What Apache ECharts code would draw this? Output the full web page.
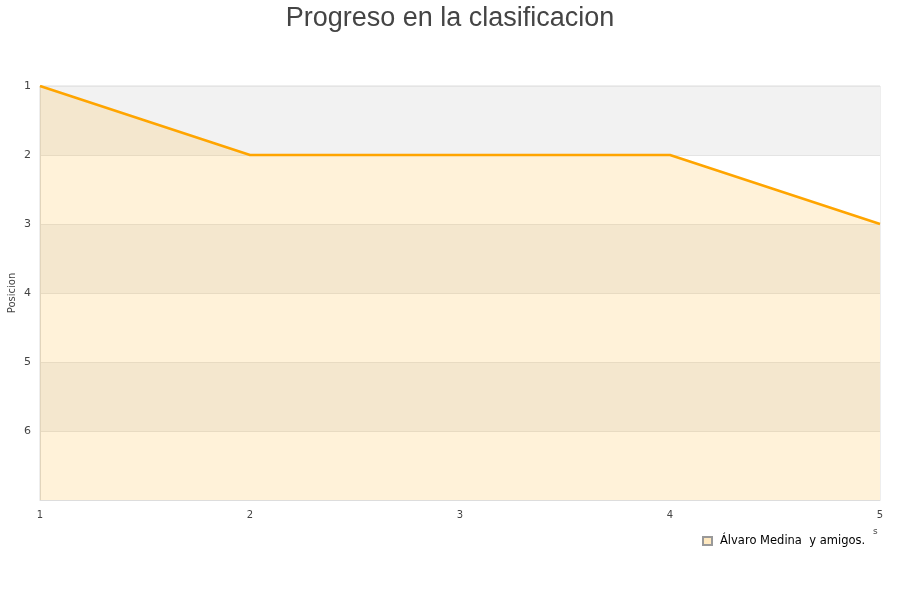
<!DOCTYPE html>
<html><head><meta charset="utf-8">
<script src="https://cdn.jsdelivr.net/npm/echarts@6/dist/echarts.min.js"></script>
<style>html,body{margin:0;padding:0;background:#fff}#c{width:900px;height:600px}</style>
</head><body><div id="c"></div>
<script>
const jornadas = [1, 2, 3, 4, 5];
const posiciones = [1, 2, 2, 2, 3];
const seriesName = 'Álvaro Medina  y amigos.';
const yTicks = [1, 2, 3, 4, 5, 6];

const chart = echarts.init(document.getElementById('c'));
chart.setOption({
  animation: false,
  title: {
    text: 'Progreso en la clasificacion',
    left: 'center', top: 0,
    textStyle: {fontFamily: 'Liberation Sans, Arial', fontSize: 27, fontWeight: 'normal', color: '#444'}
  },
  legend: {
    data: [{name: seriesName, icon: 'rect'}],
    left: 702, top: 535, padding: 0, itemWidth: 9, itemHeight: 8, itemGap: 5,
    textStyle: {fontFamily: 'DejaVu Sans', fontSize: 11.5, color: '#000', padding: [0, 0, 0, 3]}
  },
  grid: {left: 40, right: 20, top: 86, bottom: 100, show: true, borderColor: '#ddd', borderWidth: 1, outerBoundsMode: 'none', containLabel: false},
  xAxis: {
    type: 'value', min: 1, max: 5, interval: 1,
    name: 's', nameLocation: 'end', nameGap: 0,
    nameTextStyle: {fontFamily: 'DejaVu Sans', fontSize: 9, color: '#444', padding: [27, 0, 0, -7], verticalAlign: 'top'},
    axisLine: {show: true, lineStyle: {color: '#ddd'}},
    axisTick: {show: false},
    splitLine: {show: false},
    axisLabel: {fontFamily: 'DejaVu Sans', fontSize: 10, color: '#444', margin: 10}
  },
  yAxis: {
    type: 'value', min: 1, max: 7, interval: 1, inverse: true,
    name: 'Posicion', nameLocation: 'middle', nameGap: 23, nameMoveOverlap: false,
    nameTextStyle: {fontFamily: 'DejaVu Sans', fontSize: 10, color: '#444'},
    axisLine: {show: true, lineStyle: {color: '#ddd'}},
    axisTick: {show: false},
    axisLabel: {fontFamily: 'DejaVu Sans', fontSize: 11, color: '#444', margin: 9,
      formatter: v => yTicks.includes(v) ? String(v) : ''},
    splitLine: {show: true, lineStyle: {color: '#e4e4e4'}},
    splitArea: {show: true, areaStyle: {color: ['#f2f2f2', '#ffffff']}}
  },
  series: [{
    name: seriesName, type: 'line',
    data: jornadas.map((x, i) => [x, posiciones[i]]),
    symbol: 'none',
    lineStyle: {color: '#ffa500', width: 2.5},
    itemStyle: {color: '#ffe9c0', borderColor: '#999', borderWidth: 1},
    areaStyle: {color: 'rgba(255,165,0,0.21)', origin: 'end'}
  }]
});
</script></body></html>
